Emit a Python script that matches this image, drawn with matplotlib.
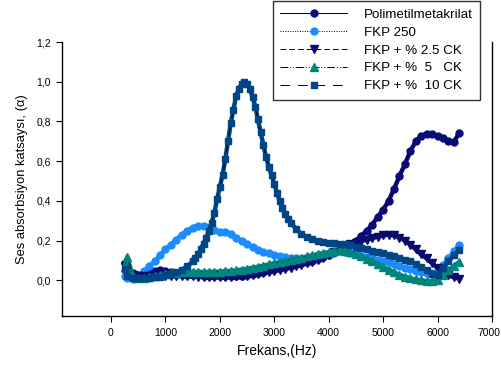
import matplotlib
matplotlib.use("Agg")
import matplotlib.pyplot as plt
import matplotlib.transforms as mtransforms
from matplotlib.ticker import FuncFormatter

plt.rcParams['font.family'] = ['Liberation Sans', 'DejaVu Sans']

# ---- data ----
freq = [250, 300, 400, 500, 600, 700, 800, 900, 1000, 1100, 1200, 1300, 1400,
        1500, 1600, 1700, 1800, 1900, 2000, 2100, 2200, 2300, 2400, 2500, 2600,
        2700, 2800, 2900, 3000, 3100, 3200, 3300, 3400, 3500, 3600, 3700, 3800,
        3900, 4000, 4100, 4200, 4300, 4400, 4500, 4600, 4700, 4800, 4900, 5000,
        5100, 5200, 5300, 5400, 5500, 5600, 5700, 5800, 5900, 6000, 6100, 6200,
        6300, 6400]

pmma = [0.088, 0.060, 0.035, 0.028, 0.030, 0.035, 0.045, 0.050, 0.048, 0.040,
        0.035, 0.030, 0.028, 0.026, 0.024, 0.023, 0.022, 0.022, 0.022, 0.022,
        0.022, 0.022, 0.023, 0.025, 0.030, 0.037, 0.043, 0.050, 0.056, 0.062,
        0.068, 0.074, 0.080, 0.086, 0.091, 0.097, 0.105, 0.115, 0.127, 0.140,
        0.155, 0.170, 0.185, 0.200, 0.225, 0.250, 0.280, 0.320, 0.355, 0.400,
        0.460, 0.525, 0.585, 0.650, 0.700, 0.728, 0.738, 0.735, 0.728, 0.715,
        0.703, 0.698, 0.742]

fkp250 = [0.020, 0.010, 0.005, 0.020, 0.045, 0.070, 0.095, 0.125, 0.155, 0.180,
          0.205, 0.230, 0.250, 0.265, 0.275, 0.272, 0.262, 0.252, 0.245, 0.243,
          0.235, 0.215, 0.198, 0.183, 0.167, 0.153, 0.143, 0.135, 0.128, 0.123,
          0.118, 0.114, 0.110, 0.107, 0.105, 0.108, 0.115, 0.122, 0.130, 0.138,
          0.145, 0.143, 0.137, 0.130, 0.124, 0.117, 0.110, 0.104, 0.098, 0.090,
          0.080, 0.070, 0.062, 0.055, 0.048, 0.042, 0.038, 0.038, 0.045, 0.075,
          0.110, 0.145, 0.180]

ck25 = [0.070, 0.040, 0.025, 0.020, 0.020, 0.022, 0.025, 0.025, 0.022, 0.021,
        0.020, 0.020, 0.019, 0.019, 0.018, 0.018, 0.018, 0.018, 0.018, 0.018,
        0.018, 0.019, 0.019, 0.020, 0.025, 0.030, 0.035, 0.040, 0.045, 0.052,
        0.058, 0.064, 0.070, 0.077, 0.085, 0.093, 0.102, 0.112, 0.125, 0.140,
        0.155, 0.170, 0.182, 0.190, 0.198, 0.205, 0.212, 0.220, 0.226, 0.230,
        0.226, 0.215, 0.200, 0.180, 0.155, 0.130, 0.110, 0.085, 0.062, 0.040,
        0.025, 0.015, 0.008]

ck5 = [0.067, 0.118, 0.020, 0.012, 0.012, 0.015, 0.020, 0.025, 0.030, 0.035,
       0.038, 0.040, 0.041, 0.042, 0.042, 0.042, 0.042, 0.043, 0.044, 0.046,
       0.048, 0.050, 0.054, 0.058, 0.063, 0.068, 0.074, 0.080, 0.086, 0.092,
       0.097, 0.103, 0.108, 0.114, 0.120, 0.126, 0.132, 0.137, 0.142, 0.147,
       0.150, 0.148, 0.140, 0.130, 0.120, 0.108, 0.096, 0.082, 0.068, 0.054,
       0.040, 0.028, 0.018, 0.010, 0.004, 0.000, -0.004, -0.004, 0.000, 0.025,
       0.050, 0.072, 0.092]

freq10 = [250, 300, 400, 500, 600, 700, 800, 900, 1000, 1100, 1200, 1300, 1400,
          1500, 1550, 1600, 1650, 1700, 1750, 1800, 1850, 1900, 1950, 2000, 2050,
          2100, 2150, 2200, 2250, 2300, 2350, 2400, 2450, 2500, 2550, 2600, 2650,
          2700, 2750, 2800, 2850, 2900, 2950, 3000, 3050, 3100, 3150, 3200, 3250,
          3300, 3400, 3500, 3600, 3700, 3800, 3900, 4000, 4100, 4200, 4300, 4400,
          4500, 4600, 4700, 4800, 4900, 5000, 5100, 5200, 5300, 5400, 5500, 5600,
          5700, 5800, 5900, 6000, 6100, 6200, 6300, 6400]
ck10 = [0.055, 0.020, 0.010, 0.010, 0.010, 0.012, 0.014, 0.018, 0.024, 0.030,
        0.040, 0.052, 0.070, 0.095, 0.112, 0.132, 0.155, 0.185, 0.215, 0.250,
        0.290, 0.340, 0.410, 0.470, 0.530, 0.610, 0.700, 0.790, 0.860, 0.930,
        0.965, 0.990, 1.000, 0.990, 0.965, 0.925, 0.875, 0.810, 0.745, 0.680,
        0.620, 0.570, 0.530, 0.485, 0.440, 0.400, 0.365, 0.335, 0.310, 0.290,
        0.260, 0.232, 0.218, 0.207, 0.198, 0.192, 0.188, 0.186, 0.185, 0.183,
        0.178, 0.170, 0.162, 0.155, 0.148, 0.142, 0.135, 0.128, 0.120, 0.112,
        0.104, 0.095, 0.082, 0.068, 0.050, 0.032, 0.025, 0.060, 0.095, 0.125,
        0.152]

labels = ["Polimetilmetakrilat", "FKP 250", "FKP + % 2.5 CK", "FKP + %  5   CK",
          "FKP + %  10 CK"]
xticks = [0, 1000, 2000, 3000, 4000, 5000, 6000, 7000]
yticks = [0.0, 0.2, 0.4, 0.6, 0.8, 1.0, 1.2]

# ---- figure ----
fig = plt.figure(figsize=(5.02, 3.75), dpi=100)
ax = fig.add_axes([62/502, 1-316/375, (492-62)/502, (316-42)/375])

lw = 0.7
series = [
    (freq, pmma, '-', 'o', 5.0, '#0b0b78'),
    (freq, fkp250, (0, (1, 1.5)), 'o', 5.0, '#1a8cff'),
    (freq, ck25, (0, (6, 3)), 'v', 5.2, '#0a0a70'),
    (freq, ck5, (0, (8, 2, 1, 2, 1, 2)), '^', 5.2, '#00857f'),
    (freq10, ck10, (0, (10, 8)), 's', 4.6, '#004585'),
]
handles = []
for x, y, ls, mk, ms, col in series:
    # band of the dense markers
    ax.plot(x, y, color=col, lw=3.2, solid_capstyle='round', zorder=2)
    h, = ax.plot(x, y, color='black', lw=lw, ls=ls, marker=mk, ms=ms,
                 mfc=col, mec=col, zorder=2)
    handles.append(h)

ax.set_xlim(-900, 7000)
ax.set_ylim(-0.18, 1.2)
ax.set_xticks(xticks)
ax.set_yticks(yticks)
ax.yaxis.set_major_formatter(FuncFormatter(lambda v, p: f"{v:.1f}".replace('.', ',')))
ax.tick_params(axis='both', direction='out', length=4, width=0.8, labelsize=7.5,
               colors='black')
ax.tick_params(axis='x', pad=5)
ax.tick_params(axis='y', pad=4)
ax.spines['top'].set_visible(False)
for s in ['left', 'bottom', 'right']:
    ax.spines[s].set_linewidth(1.0)

# keep the last x tick label inside the picture
fig.canvas.draw()
last = ax.get_xticklabels()[-1]
last.set_transform(last.get_transform() +
                   mtransforms.ScaledTranslation(-3/100, 0, fig.dpi_scale_trans))

ax.set_xlabel("Frekans,(Hz)", fontsize=10, labelpad=4)
ax.set_ylabel("Ses absorbsiyon katsaysı, (α)", fontsize=9.3, labelpad=6)

leg = fig.legend(handles, labels, loc='upper left',
                 bbox_to_anchor=(273/502, 1 - 1/375), fontsize=9.6, numpoints=1,
                 handlelength=5.0, handletextpad=1.25, labelspacing=0.42,
                 borderpad=0.55, fancybox=False, frameon=True, borderaxespad=0,
                 markerscale=1.0)
leg.get_frame().set_edgecolor('black')
leg.get_frame().set_linewidth(1.0)

fig.savefig("out.png", dpi=100)
